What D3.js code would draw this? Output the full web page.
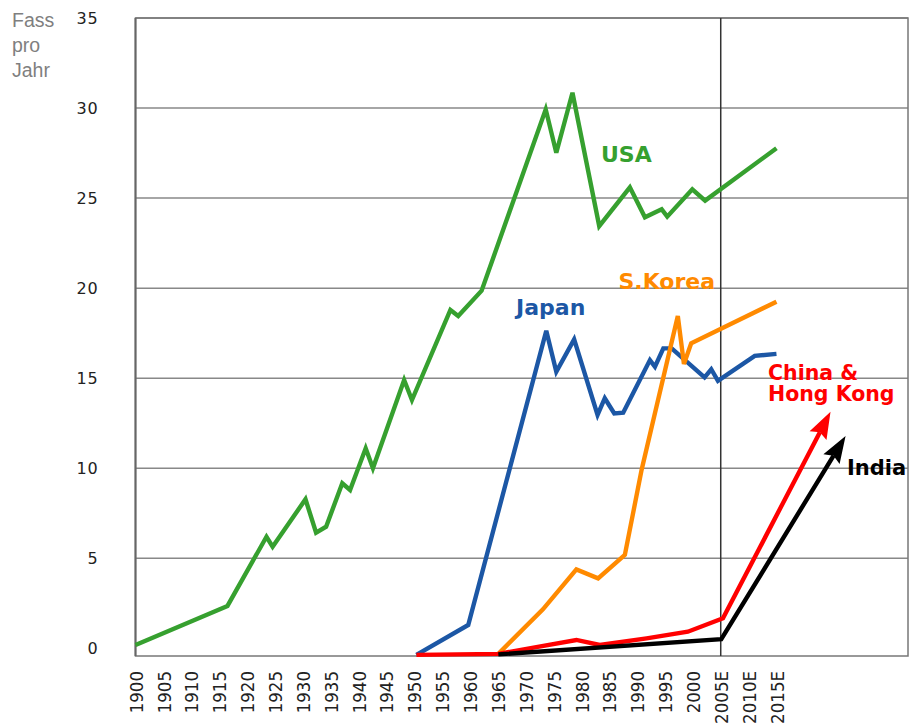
<!DOCTYPE html>
<html>
<head>
<meta charset="utf-8">
<script src="https://cdn.jsdelivr.net/npm/d3@7"></script>
<style>
  html, body { margin: 0; padding: 0; background: #fff; }
  #chart { width: 910px; height: 724px; }
</style>
</head>
<body>
<div id="chart"></div>
<script>
// Fass pro Jahr by country, 1900 - 2015E

const tickYears = [1900, 1905, 1910, 1915, 1920, 1925, 1930, 1935, 1940, 1945, 1950, 1955,
  1960, 1965, 1970, 1975, 1980, 1985, 1990, 1995, 2000, 2005, 2010, 2015];
const yTicks = [0, 5, 10, 15, 20, 25, 30, 35];

const usaYears = [1900, 1916.5, 1923.5, 1924.6, 1930.5, 1932.4, 1934.2, 1937.1, 1938.5, 1941.3,
  1942.6, 1948.2, 1949.6, 1956.5, 1957.9, 1962.1, 1973.6, 1975.5, 1978.4, 1983.2, 1988.7,
  1991.4, 1994.4, 1995.4, 1999.9, 2002.2, 2015];
const usaValues = [0.19, 2.36, 6.2, 5.65, 8.28, 6.43, 6.76, 9.17, 8.8, 11.11,
  10.0, 14.9, 13.79, 18.79, 18.46, 19.86, 29.93, 27.52, 30.85, 23.45, 25.6,
  23.94, 24.38, 23.97, 25.49, 24.86, 27.77];

const japanYears = [1950.4, 1959.7, 1973.7, 1975.5, 1978.7, 1982.9, 1984.2, 1985.9, 1987.5,
  1992.3, 1993.2, 1994.7, 1996.2, 2002.1, 2003.3, 2004.5, 2011.1, 2015];
const japanValues = [-0.36, 1.3, 17.64, 15.36, 17.16, 12.96, 13.89, 13.05, 13.09,
  16.01, 15.64, 16.66, 16.66, 15.05, 15.5, 14.86, 16.24, 16.35];

const koreaYears = [1965.1, 1973.1, 1979.1, 1983, 1987.8, 1990.8, 1997.3, 1998.4, 1999.7, 2015];
const koreaValues = [-0.3, 2.17, 4.39, 3.89, 5.19, 9.91, 18.46, 15.79, 16.94, 19.25];

const chinaYears = [1950.4, 1965.1, 1979.1, 1983.3, 1991.7, 1999.1, 2005.4, 2024.7];
const chinaValues = [-0.36, -0.3, 0.47, 0.19, 0.56, 0.93, 1.67, 13.14];

const indiaYears = [1965.1, 2005.1, 2027.4];
const indiaValues = [-0.33, 0.51, 11.79];

function zipSeries(years, values) {
  return years.map((yr, i) => ({ year: yr, value: values[i] }));
}

const series = [
  { name: 'USA', color: '#36a02f', data: zipSeries(usaYears, usaValues), arrow: false },
  { name: 'Japan', color: '#1c57a5', data: zipSeries(japanYears, japanValues), arrow: false },
  { name: 'S.Korea', color: '#ff8a00', data: zipSeries(koreaYears, koreaValues), arrow: false },
  { name: 'China', color: '#ff0000', data: zipSeries(chinaYears, chinaValues), arrow: true },
  { name: 'India', color: '#000000', data: zipSeries(indiaYears, indiaValues), arrow: true }
];

function renderChart(sel) {
  const W = 910, H = 724;
  const left = 135.5, right = 908, top = 18, bottom = 656;

  const svg = d3.select(sel).append('svg')
    .attr('width', W)
    .attr('height', H);

  const x = d3.scaleLinear().domain([1900, 2038.6]).range([left, right]);
  const y = d3.scaleLinear().domain([-0.42, 35]).range([bottom, top]);

  // horizontal gridlines
  svg.append('g')
    .selectAll('line')
    .data(yTicks.filter(v => v > 0))
    .enter().append('line')
    .attr('x1', left).attr('x2', right)
    .attr('y1', d => y(d)).attr('y2', d => y(d))
    .attr('stroke', '#888')
    .attr('stroke-width', 1.5);

  // frame
  svg.append('rect')
    .attr('x', left).attr('y', y(35))
    .attr('width', right - left).attr('height', bottom - y(35))
    .attr('fill', 'none')
    .attr('stroke', '#777')
    .attr('stroke-width', 1.5);
  svg.append('line')
    .attr('x1', left).attr('x2', left)
    .attr('y1', y(35)).attr('y2', bottom)
    .attr('stroke', '#666').attr('stroke-width', 2);

  // 2005E divider
  svg.append('line')
    .attr('x1', x(2005)).attr('x2', x(2005))
    .attr('y1', y(35)).attr('y2', bottom)
    .attr('stroke', '#333')
    .attr('stroke-width', 1.5);

  // y axis labels
  const yAxis = d3.axisLeft(y).tickValues(yTicks).tickSize(0).tickPadding(37);
  const gy = svg.append('g').attr('transform', `translate(${left},0)`).call(yAxis);
  gy.select('.domain').remove();
  gy.selectAll('text')
    .style('font-family', '"DejaVu Sans", sans-serif')
    .style('font-size', '16px')
    .style('letter-spacing', '0.8px')
    .attr('fill', '#222');

  // x axis labels, rotated
  const xAxis = d3.axisBottom(x).tickValues(tickYears).tickSize(0)
    .tickFormat(d => d >= 2005 ? d + 'E' : String(d));
  const gx = svg.append('g').attr('transform', `translate(0,${bottom})`).call(xAxis);
  gx.select('.domain').remove();
  gx.selectAll('text')
    .attr('transform', 'rotate(-90)')
    .attr('text-anchor', 'end')
    .attr('x', -15)
    .attr('y', 0)
    .attr('dy', '0.36em')
    .style('font-family', '"DejaVu Sans Condensed", "DejaVu Sans", sans-serif')
    .style('font-size', '18.5px')
    .attr('fill', '#222');

  // unit label
  svg.append('text')
    .attr('x', 12).attr('y', 26.5)
    .style('font-family', '"Liberation Sans", Arial, sans-serif')
    .style('font-size', '19.5px')
    .attr('fill', '#7f7f7f')
    .selectAll('tspan')
    .data(['Fass', 'pro', 'Jahr'])
    .enter().append('tspan')
    .attr('x', 12)
    .attr('dy', (d, i) => i === 0 ? 0 : 25)
    .text(d => d);

  const line = d3.line().x(d => x(d.year)).y(d => y(d.value));

  const headLen = 27, headHalf = 9.5;

  series.forEach(s => {
    let pts = s.data;
    if (s.arrow) {
      // stop the stroke a bit short of the tip so the head stays sharp
      const a = pts[pts.length - 2], b = pts[pts.length - 1];
      const ax = x(a.year), ay = y(a.value), bx = x(b.year), by = y(b.value);
      const len = Math.hypot(bx - ax, by - ay);
      const ux = (bx - ax) / len, uy = (by - ay) / len;
      const path = line(pts.slice(0, -1)) + `L${bx - ux * (headLen - 4)},${by - uy * (headLen - 4)}`;
      svg.append('path')
        .attr('d', path)
        .attr('fill', 'none')
        .attr('stroke', s.color)
        .attr('stroke-width', 4.4)
        .attr('stroke-linejoin', 'miter');
      const bxm = bx - ux * headLen, bym = by - uy * headLen;
      svg.append('path')
        .attr('d', `M${bx},${by}L${bxm - uy * headHalf},${bym + ux * headHalf}` +
          `L${bx - ux * (headLen - 4)},${by - uy * (headLen - 4)}` +
          `L${bxm + uy * headHalf},${bym - ux * headHalf}Z`)
        .attr('fill', s.color);
    } else {
      svg.append('path')
        .attr('d', line(pts))
        .attr('fill', 'none')
        .attr('stroke', s.color)
        .attr('stroke-width', 4.4)
        .attr('stroke-linejoin', 'miter');
    }
  });

  // series labels
  const labels = [
    { text: 'USA', color: '#36a02f', x: 601, y: 161.5, size: 22 },
    { text: 'Japan', color: '#1c57a5', x: 516, y: 315, size: 22 },
    { text: 'S.Korea', color: '#ff8a00', x: 618.5, y: 288.5, size: 22 },
    { text: 'China &', color: '#ff0000', x: 768, y: 379.5, size: 20.5 },
    { text: 'Hong Kong', color: '#ff0000', x: 768, y: 401, size: 20.5 },
    { text: 'India', color: '#000000', x: 847, y: 474.5, size: 21 }
  ];
  svg.append('g')
    .selectAll('text')
    .data(labels)
    .enter().append('text')
    .attr('x', d => d.x)
    .attr('y', d => d.y)
    .attr('fill', d => d.color)
    .style('font-family', '"DejaVu Sans", sans-serif')
    .style('font-weight', 'bold')
    .style('font-size', d => d.size + 'px')
    .text(d => d.text);
}

renderChart('#chart');
</script>
</body>
</html>
